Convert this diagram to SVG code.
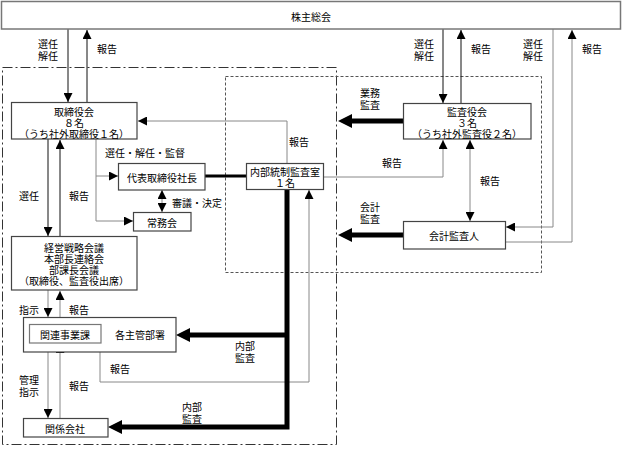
<svg xmlns="http://www.w3.org/2000/svg" width="623" height="449" viewBox="0 0 623 449">
<style>
text{font-family:"Noto Sans CJK JP","Noto Sans CJK SC",sans-serif;font-size:10px;fill:#000;text-anchor:middle;dominant-baseline:central}
.box{fill:#fff;stroke:#444;stroke-width:1.2}
.k{fill:none;stroke:#111;stroke-width:1}
.g{fill:none;stroke:#888;stroke-width:1}
.thick{fill:none;stroke:#000;stroke-width:5}
</style>
<defs>
<marker id="ah" markerUnits="userSpaceOnUse" viewBox="0 0 10 10" refX="10" refY="5" markerWidth="9" markerHeight="9" orient="auto-start-reverse"><path d="M0,0 L10,5 L0,10 z" fill="#000"/></marker>
<marker id="big" markerUnits="userSpaceOnUse" viewBox="0 0 14 14" refX="0" refY="7" markerWidth="14" markerHeight="14" orient="auto"><path d="M0,0 L14,7 L0,14 z" fill="#000"/></marker>
</defs>

<!-- frames -->
<rect x="2.5" y="67.5" width="334" height="377" fill="none" stroke="#333" stroke-width="1" stroke-dasharray="10 3 2 3"/>
<rect x="225.5" y="76.5" width="316" height="196" fill="none" stroke="#555" stroke-width="1" stroke-dasharray="3 2"/>

<g id="connectors">
<line class="k" x1="68" y1="29" x2="68" y2="102" marker-end="url(#ah)"/>
<line class="k" x1="87" y1="102" x2="87" y2="30" marker-end="url(#ah)"/>
<line class="k" x1="443" y1="29" x2="443" y2="103" marker-end="url(#ah)"/>
<line class="k" x1="461" y1="103" x2="461" y2="30" marker-end="url(#ah)"/>
<path class="g" d="M553,29 V227 H506" marker-end="url(#ah)"/>
<path class="g" d="M505,242 H572 V30" marker-end="url(#ah)"/>
<path class="g" d="M287,163 V121 H138" marker-end="url(#ah)"/>
<path class="g" d="M96,139 V221 H133" marker-end="url(#ah)"/>
<path class="g" d="M96,176 H118" marker-end="url(#ah)"/>
<line class="g" x1="162" y1="190" x2="162" y2="212" marker-start="url(#ah)" marker-end="url(#ah)"/>
<line x1="205" y1="176" x2="247" y2="176" stroke="#000" stroke-width="3"/>
<path class="g" d="M323,177 H443 V140" marker-end="url(#ah)"/>
<line class="g" x1="470" y1="140" x2="470" y2="221" marker-start="url(#ah)" marker-end="url(#ah)"/>
<line class="thick" x1="403" y1="121" x2="352" y2="121" marker-end="url(#big)"/>
<line class="thick" x1="403" y1="235" x2="352" y2="235" marker-end="url(#big)"/>
<line class="k" x1="48" y1="139" x2="48" y2="236" marker-end="url(#ah)"/>
<line class="k" x1="60" y1="236" x2="60" y2="140" marker-end="url(#ah)"/>
<line class="g" x1="48" y1="290" x2="48" y2="317" marker-end="url(#ah)"/>
<line class="g" x1="60" y1="317" x2="60" y2="291" marker-end="url(#ah)"/>
<line class="g" x1="48" y1="343" x2="48" y2="418" marker-end="url(#ah)"/>
<line class="g" x1="60" y1="418" x2="60" y2="344" marker-end="url(#ah)"/>
<path class="g" d="M100,352 V382 H309 V190" marker-end="url(#ah)"/>
<path class="thick" d="M287,189 V427 H122" marker-end="url(#big)"/>
<path class="thick" d="M287,335 H190" marker-end="url(#big)"/>
</g>

<g id="shareholders"><rect x="1.5" y="1.5" width="619" height="27.5" fill="#fff" stroke="#777" stroke-width="1.5"/><text x="311" y="16">株主総会</text></g>
<g id="board"><rect class="box" x="11.5" y="102.5" width="125.5" height="36.5"/><text x="74" y="111">取締役会<tspan x="74" dy="11">８名</tspan><tspan x="74" dy="11">（うち社外取締役１名）</tspan></text></g>
<g id="president"><rect class="box" x="118.5" y="163.5" width="86.5" height="26.5"/><text x="162" y="177">代表取締役社長</text></g>
<g id="executive"><rect class="box" x="133.5" y="212.5" width="57.5" height="18.5"/><text x="162" y="222">常務会</text></g>
<g id="internal-audit"><rect class="box" x="246.5" y="163.5" width="77" height="26"/><text x="285" y="171">内部統制監査室<tspan x="285" dy="11">１名</tspan></text></g>
<g id="auditors"><rect class="box" x="403.5" y="103.5" width="127.5" height="35.5"/><text x="467" y="111">監査役会<tspan x="467" dy="11">３名</tspan><tspan x="467" dy="11">（うち社外監査役２名）</tspan></text></g>
<g id="accounting-auditor"><rect class="box" x="403.5" y="221.5" width="102" height="27.5"/><text x="454" y="235">会計監査人</text></g>
<g id="strategy"><rect class="box" x="11.5" y="236.5" width="125.5" height="53.5"/><text x="74" y="247">経営戦略会議<tspan x="74" dy="11">本部長連絡会</tspan><tspan x="74" dy="11">部課長会議</tspan><tspan x="74" dy="11">（取締役、監査役出席）</tspan></text></g>
<g id="departments"><rect class="box" x="23.5" y="317.5" width="152.5" height="34.5"/><rect x="29.5" y="324.5" width="71.5" height="18.5" fill="#fff" stroke="#777" stroke-width="1.2"/><text x="65" y="334">関連事業課</text><text x="140" y="334">各主管部署</text></g>
<g id="affiliates"><rect class="box" x="23.5" y="418.5" width="84.5" height="18.5"/><text x="65" y="428">関係会社</text></g>

<g id="labels">
<text x="48" y="43">選任<tspan x="48" dy="12">解任</tspan></text>
<text x="107" y="48">報告</text>
<text x="424" y="43">選任<tspan x="424" dy="12">解任</tspan></text>
<text x="481" y="48">報告</text>
<text x="533" y="43">選任<tspan x="533" dy="12">解任</tspan></text>
<text x="592" y="48">報告</text>
<text x="370" y="92">業務<tspan x="370" dy="12">監査</tspan></text>
<text x="370" y="206">会計<tspan x="370" dy="12">監査</tspan></text>
<text x="392" y="162">報告</text>
<text x="490" y="180">報告</text>
<text x="299" y="141">報告</text>
<text x="145" y="152">選任・解任・監督</text>
<text x="197" y="202">審議・決定</text>
<text x="29" y="195">選任</text>
<text x="79" y="195">報告</text>
<text x="29" y="309">指示</text>
<text x="79" y="309">報告</text>
<text x="29" y="379">管理<tspan x="29" dy="12">指示</tspan></text>
<text x="79" y="385">報告</text>
<text x="120" y="368">報告</text>
<text x="245" y="345">内部<tspan x="245" dy="12">監査</tspan></text>
<text x="192" y="406">内部<tspan x="192" dy="12">監査</tspan></text>
</g>
</svg>
